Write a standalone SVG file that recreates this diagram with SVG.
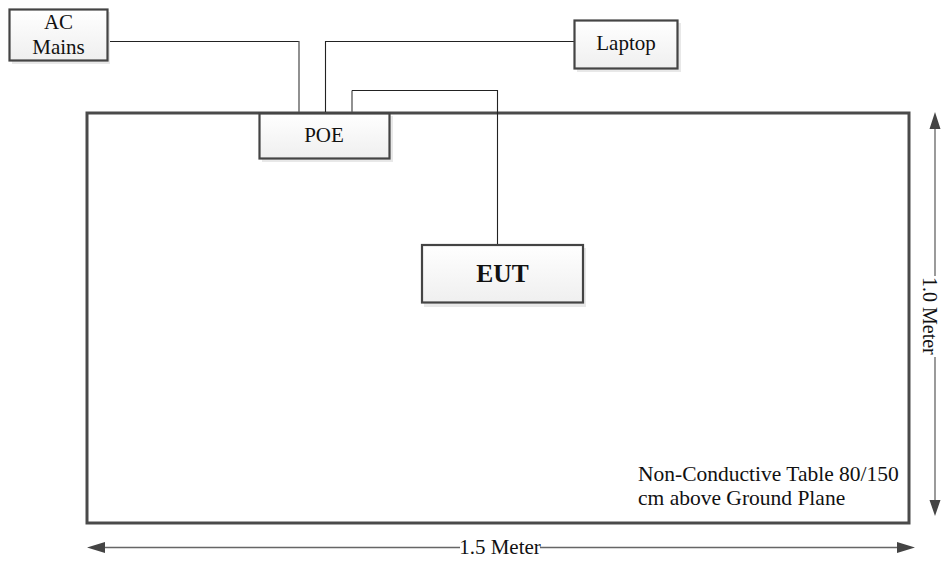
<svg xmlns="http://www.w3.org/2000/svg" width="941" height="561" viewBox="0 0 941 561">
<style>
text{font-family:"Liberation Serif","Times New Roman",serif;font-size:21px;fill:#111}
.c{text-anchor:middle}
.box{fill:url(#g);stroke:#444;stroke-width:2.2}
.shadow{fill:#e8e8e8}
.wire{fill:none;stroke:#222;stroke-width:1.1}
.wire2{fill:none;stroke:#555;stroke-width:1.3}
.dim{fill:none;stroke:#666;stroke-width:1.3}
.head{fill:#444}
</style>
<defs>
<linearGradient id="g" x1="0" y1="0" x2="0" y2="1"><stop offset="0" stop-color="#ffffff"/><stop offset="1" stop-color="#efefef"/></linearGradient>
</defs>
<rect width="941" height="561" fill="#fff"/>
<g id="table"><rect x="87" y="113" width="822" height="410" fill="none" stroke="#4a4a4a" stroke-width="3"/>
<text x="638" y="481" style="font-size:21.500px">Non-Conductive Table 80/150</text>
<text x="638" y="505" style="font-size:21.500px">cm above Ground Plane</text></g>
<g id="connectors">
<path class="wire" d="M108 41.500H299"/><path class="wire2" d="M299 41V112"/>
<path class="wire" d="M574 41.500H325.500V112"/>
<path class="wire2" d="M352 112V90.500"/><path class="wire" d="M352 90.500H497.500V244"/>
</g>
<g id="dimension-height">
<path class="dim" d="M935 126V276M935 357V510"/>
<path class="head" d="M935 112L929.500 129H940.500ZM935 516L929.500 500H940.500Z"/>
<text transform="translate(923 277) rotate(90)" style="font-size:20px">1.0 Meter</text>
</g>
<g id="dimension-width">
<path class="dim" d="M100 547.500H460M540 547.500H902"/>
<path class="head" d="M87 547.500L105 542V553ZM915 547.500L897 542V553Z"/>
<text class="c" x="500" y="554">1.5 Meter</text>
</g>
<g id="ac-mains"><rect class="shadow" x="12" y="12" width="98" height="52"/><rect class="box" x="9.500" y="9.500" width="98" height="51"/>
<text class="c" x="58.500" y="29">AC</text><text class="c" x="58.500" y="54">Mains</text></g>
<g id="laptop"><rect class="shadow" x="577" y="23" width="104" height="49"/><rect class="box" x="574.500" y="20.500" width="103" height="48"/>
<text class="c" x="626" y="50">Laptop</text></g>
<g id="poe"><rect class="shadow" x="262" y="116" width="131" height="46"/><rect class="box" x="259.500" y="113.500" width="130" height="45"/>
<text class="c" x="324" y="142">POE</text></g>
<g id="eut"><rect class="shadow" x="424" y="248" width="162" height="59"/><rect class="box" x="422" y="245" width="161" height="57.500"/>
<text class="c" x="502.500" y="282" font-weight="bold" style="font-size:25.500px">EUT</text></g>
</svg>
